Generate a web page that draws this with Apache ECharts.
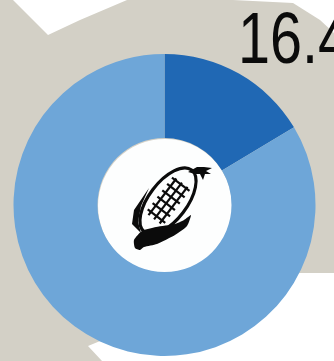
<!DOCTYPE html>
<html>
<head>
<meta charset="utf-8">
<style>html,body{margin:0;padding:0;background:#fff;overflow:hidden}#c{width:334px;height:361px}</style>
<script src="https://cdn.jsdelivr.net/npm/echarts@6/dist/echarts.min.js"></script>
</head>
<body>
<div id="c"></div>
<script>
// Share of the crop, in percent
const categories = ['Corn', 'Other'];
const shares = [16.4, 83.6];
const sliceColors = ['#2068b4', '#6ea6d8'];
const headline = '16.4';

const INK = '#0b0b0b';
const cx = 164.5, cy = 205;

// Backdrop shape behind the ring
const backdrop = [[0,0],[13,0],[48,35],[80,20],[127,0],[233,0],[293,3],[320,20],[334,33],
                  [334,273],[300,273],[200,300],[88,346],[102,361],[0,361]];

// Husk around the lower end of the cob, with its stem
const husk = [[134,240],[142,231],[156,227],[175,224],[184,220],[191,215],[187,226],[175,235],[157,244],[144,247],[140,250],[135,248]];
// Leaf running up the left side of the cob
const leaf = [[141,233],[132,224],[134,210],[149,188],[141,206],[138,222]];
// Tassel at the tip of the cob
const tassel = [[188,172],[197,167],[204,167],[212,168],[206,171],[211,174],[205,174],[203,180],[200,174],[195,174]];

// Cob rows and columns, in the cob's own rotated frame
const cobLines = [];
[-7, 0, 7].forEach(function (y) {
  cobLines.push({ type: 'line', shape: { x1: -23, y1: y, x2: 23, y2: y }, style: { stroke: INK, lineWidth: 2.2 }, z: 12 });
});
[-19, -11, -3, 5, 13, 21].forEach(function (x) {
  cobLines.push({ type: 'line', shape: { x1: x, y1: -11, x2: x, y2: 11 }, style: { stroke: INK, lineWidth: 2.2 }, z: 12 });
});

const chart = echarts.init(document.getElementById('c'), null, { renderer: 'canvas' });
chart.setOption({
  animation: false,
  backgroundColor: '#ffffff',
  graphic: [
    { type: 'polygon', shape: { points: backdrop }, style: { fill: '#d3d0c6' }, z: 0, silent: true },
    { type: 'circle', shape: { cx: 165, cy: 206, r: 67 }, style: { fill: '#fdfefe' }, z: 0, silent: true },
    // Corn cob outline, tilted toward the upper right
    { type: 'group', x: 168, y: 201, rotation: 0.92, children:
      [{ type: 'ellipse', shape: { cx: 0, cy: 0, rx: 39, ry: 19 }, style: { fill: '#fdfefe', stroke: INK, lineWidth: 3.2 }, z: 11 }].concat(cobLines)
    },
    { type: 'polygon', shape: { points: husk, smooth: 0.2 }, style: { fill: INK }, z: 13, silent: true },
    { type: 'polygon', shape: { points: leaf }, style: { fill: INK }, z: 13, silent: true },
    { type: 'polygon', shape: { points: tassel }, style: { fill: INK }, z: 13, silent: true },
    { type: 'text', x: 238, y: 7, scaleX: 0.8, style: { text: headline, fill: INK, font: '72px "Liberation Sans", sans-serif' }, z: 20 }
  ],
  series: [{
    type: 'pie',
    center: [cx, cy],
    radius: [67, 151],
    startAngle: 90,
    clockwise: true,
    silent: true,
    label: { show: false },
    labelLine: { show: false },
    data: categories.map(function (name, i) {
      return { name: name, value: shares[i], itemStyle: { color: sliceColors[i] } };
    })
  }]
});
</script>
</body>
</html>
